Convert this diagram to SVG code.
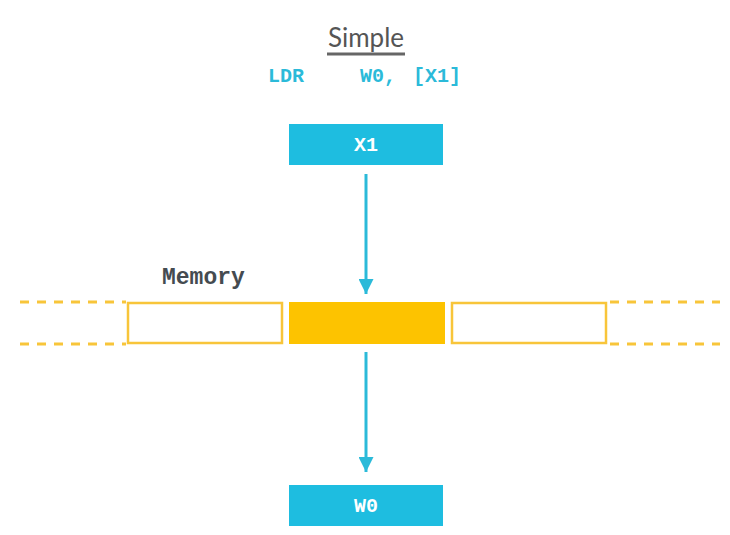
<svg xmlns="http://www.w3.org/2000/svg" width="730" height="535" viewBox="0 0 730 535">
<defs>
<style>
.reg{fill:#1ebde0}
.regt{font-family:"Liberation Mono","DejaVu Sans Mono",monospace;font-weight:bold;font-size:20px;fill:#ffffff;text-anchor:middle}
.code{font-family:"Liberation Mono","DejaVu Sans Mono",monospace;font-weight:bold;font-size:20px;fill:#2bbad9}
.cell{fill:#ffffff;stroke:#f8c53a;stroke-width:2.5}
.dash{stroke:#f8c53a;stroke-width:3;stroke-dasharray:9,8;fill:none}
.conn{stroke:#2bbad9;stroke-width:3;fill:none}
</style>
<marker id="ah" markerWidth="6" markerHeight="5" refX="5" refY="2.5" orient="auto" markerUnits="strokeWidth">
<path d="M0,0 L5,2.5 L0,5 Z" fill="#2bbad9"/>
</marker>
</defs>
<rect width="730" height="535" fill="#ffffff"/>
<g id="title">
<text x="366" y="47" font-family="Lato,'Open Sans',sans-serif" font-size="26" fill="#555555" text-anchor="middle">Simple</text>
<line x1="327" y1="54" x2="405" y2="54" stroke="#666666" stroke-width="3"/>
</g>
<g id="instruction">
<text class="code" x="268" y="82">LDR</text>
<text class="code" x="360" y="82">W0,</text>
<text class="code" x="413" y="82">[X1]</text>
</g>
<g id="x1">
<rect class="reg" x="289" y="124" width="154" height="41"/>
<text class="regt" x="366" y="151">X1</text>
</g>
<g id="memory">
<text x="162" y="284" font-family="'Liberation Mono','DejaVu Sans Mono',monospace" font-weight="bold" font-size="23" fill="#454b50">Memory</text>
<line class="dash" x1="20" y1="302" x2="126" y2="302"/>
<line class="dash" x1="20" y1="344" x2="126" y2="344"/>
<line class="dash" x1="610" y1="302" x2="720" y2="302"/>
<line class="dash" x1="610" y1="344" x2="720" y2="344"/>
<rect class="cell" x="128" y="303" width="154" height="40"/>
<rect x="289" y="302" width="156" height="42" fill="#fdc300"/>
<rect class="cell" x="452" y="303" width="154" height="40"/>
</g>
<g id="w0">
<rect class="reg" x="289" y="485" width="154" height="41"/>
<text class="regt" x="366" y="512">W0</text>
</g>
<g id="connectors">
<line class="conn" x1="366" y1="174" x2="366" y2="294" marker-end="url(#ah)"/>
<line class="conn" x1="366" y1="352" x2="366" y2="472" marker-end="url(#ah)"/>
</g>
</svg>
